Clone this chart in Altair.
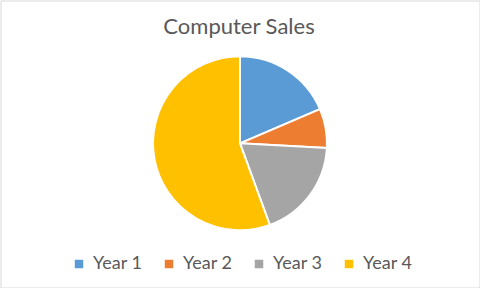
import altair as alt
import pandas as pd

title_text = ["Computer Sales"]
years = ["Year 1", "Year 2", "Year 3", "Year 4"]
sales = [150, 59, 150, 449]
colors = ["#5B9BD5", "#ED7D31", "#A5A5A5", "#FFC000"]

df = pd.DataFrame({"year": years, "sales": sales})
tdf = pd.DataFrame({"title": title_text})

FONT = "Lato"
TXT = "#595959"

pie = alt.Chart(df).mark_arc(
    x=239.5, y=142.8, outerRadius=87, stroke="white", strokeWidth=2
).encode(
    theta=alt.Theta("sales:Q", stack=True),
    color=alt.Color(
        "year:N",
        scale=alt.Scale(domain=years, range=colors),
        legend=alt.Legend(
            title=None,
            orient="none",
            direction="horizontal",
            legendX=69.5,
            legendY=254.5,
            symbolType="square",
            symbolSize=72,
            symbolStrokeWidth=0,
            labelFont=FONT,
            labelFontSize=18,
            labelColor=TXT,
            labelOffset=5,
            columnPadding=17,
            padding=0,
        ),
    ),
    order=alt.Order("year:N"),
)

title = alt.Chart(tdf).mark_text(
    font=FONT, fontSize=22, color=TXT, align="center", baseline="alphabetic"
).encode(
    text="title:N",
    x=alt.value(238.5),
    y=alt.value(33.8),
)

chart = alt.layer(pie, title).properties(
    width=479,
    height=287,
    padding={"left": 0.5, "top": 0.5, "right": 0.5, "bottom": 0.5},
    autosize=alt.AutoSizeParams(type="none"),
    background="white",
).configure_view(stroke="#D9D9D9", strokeWidth=1)

chart.save("out.html", embed_options={"renderer": "svg", "actions": False})
